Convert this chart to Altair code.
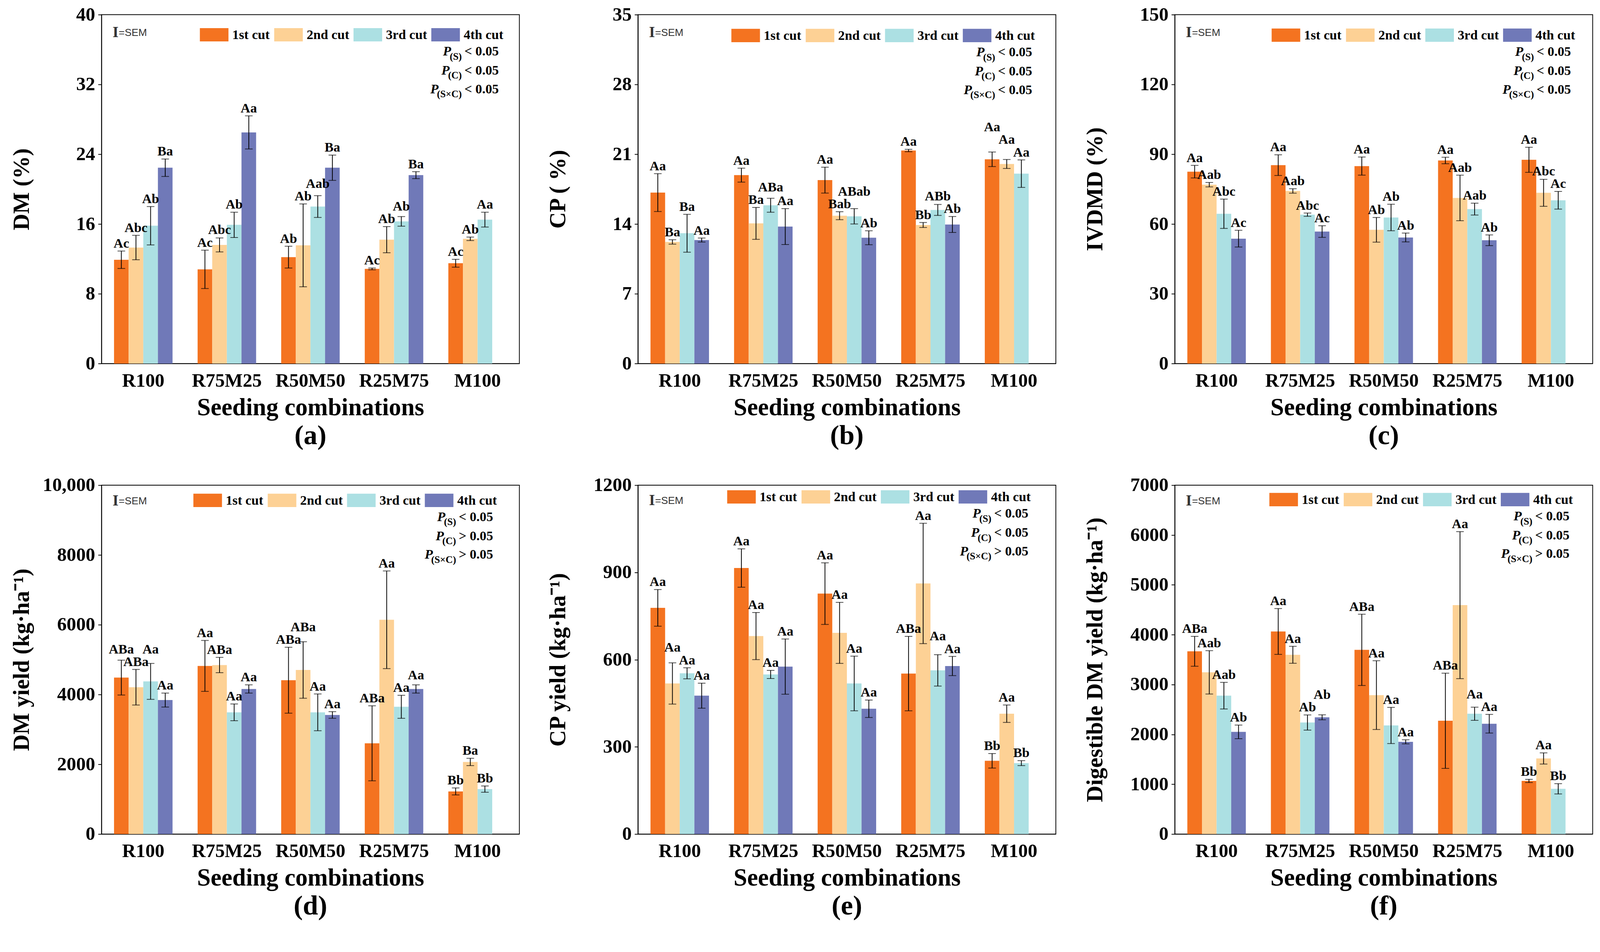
import altair as alt
import pandas as pd

FONT = "Liberation Serif"
W, H = 1096, 915

cats = ["R100", "R75M25", "R50M50", "R25M75", "M100"]
cuts = ["1st cut", "2nd cut", "3rd cut", "4th cut"]
colors = ["#F47320", "#FDD195", "#ACE0E3", "#7079B8"]

# (a) DM (%)
dm_mean = [[11.9, 13.3, 15.8, 22.45], [10.8, 13.6, 15.9, 26.5], [12.2, 13.55, 18.0, 22.45],
           [10.85, 14.2, 16.3, 21.6], [11.5, 14.3, 16.5]]
dm_sem = [[1.0, 1.4, 2.2, 1.0], [2.2, 0.8, 1.45, 1.9], [1.25, 4.75, 1.25, 1.45],
          [0.1, 1.5, 0.55, 0.4], [0.45, 0.2, 0.85]]
dm_let = [["Ac", "Abc", "Ab", "Ba"], ["Ac", "Abc", "Ab", "Aa"], ["Ab", "Ab", "Aab", "Ba"],
          ["Ac", "Ab", "Ab", "Ba"], ["Ac", "Ab", "Aa"]]

# (b) CP (%)
cp_mean = [[17.15, 12.2, 13.07, 12.39], [18.9, 14.06, 15.88, 13.74], [18.4, 14.83, 14.77, 12.62],
           [21.37, 13.9, 15.41, 13.95], [20.49, 20.02, 19.05]]
cp_sem = [[1.9, 0.22, 1.9, 0.2], [0.7, 1.6, 0.7, 1.8], [1.3, 0.4, 0.77, 0.7],
          [0.12, 0.25, 0.55, 0.8], [0.73, 0.45, 1.38]]
cp_let = [["Aa", "Ba", "Ba", "Aa"], ["Aa", "Ba", "ABa", "Aa"], ["Aa", "Bab", "ABab", "Ab"],
          ["Aa", "Bb", "ABb", "Ab"], ["Aa", "Aa", "Aa"]]

# (c) IVDMD (%)
iv_mean = [[82.5, 76.9, 64.4, 53.7], [85.3, 74.2, 64.0, 56.75], [84.9, 57.5, 62.8, 54.2],
           [87.3, 71.2, 66.4, 53.0], [87.6, 73.4, 70.2]]
iv_sem = [[2.7, 0.95, 6.3, 3.6], [4.45, 0.95, 0.7, 2.5], [3.9, 5.3, 5.7, 1.9],
          [1.4, 9.8, 2.55, 2.3], [5.4, 5.8, 3.8]]
iv_let = [["Aa", "Aab", "Abc", "Ac"], ["Aa", "Aab", "Abc", "Ac"], ["Aa", "Ab", "Ab", "Ab"],
          ["Aa", "Aab", "Aab", "Ab"], ["Aa", "Abc", "Ac"]]

# (d) DM yield
dy_mean = [[4485, 4209, 4376, 3841], [4820, 4845, 3489, 4159], [4410, 4703, 3489, 3414],
           [2602, 6142, 3648, 4159], [1222, 2067, 1289]]
dy_sem = [[500, 510, 515, 200], [730, 220, 240, 118], [945, 810, 527, 95],
          [1075, 1400, 330, 118], [100, 105, 90]]
dy_let = [["ABa", "ABa", "Aa", "Aa"], ["Aa", "ABa", "Aa", "Aa"], ["ABa", "ABa", "Aa", "Aa"],
          ["ABa", "Aa", "Aa", "Aa"], ["Bb", "Ba", "Bb"]]

# (e) CP yield
cy_mean = [[778, 518, 553, 476], [915, 681, 549, 576], [827, 692, 518, 431],
           [552, 862, 563, 578], [252, 414, 244]]
cy_sem = [[63, 71, 19, 43], [66, 81, 14, 95], [106, 105, 94, 30],
          [128, 207, 54, 33], [25, 30, 8.5]]
cy_let = [["Aa", "Aa", "Aa", "Aa"], ["Aa", "Aa", "Aa", "Aa"], ["Aa", "Aa", "Aa", "Aa"],
          ["ABa", "Aa", "Aa", "Aa"], ["Bb", "Aa", "Bb"]]

# (f) Digestible DM yield
dd_mean = [[3667, 3245, 2777, 2050], [4065, 3597, 2238, 2343], [3696, 2788, 2179, 1851],
           [2273, 4593, 2414, 2214], [1066, 1517, 908]]
dd_sem = [[300, 435, 267, 137], [460, 170, 152, 50], [715, 690, 363, 41],
          [955, 1475, 132, 187], [32, 112, 103]]
dd_let = [["ABa", "Aab", "Aab", "Ab"], ["Aa", "Aa", "Ab", "Ab"], ["ABa", "Aa", "Aa", "Aa"],
          ["ABa", "Aa", "Aa", "Aa"], ["Bb", "Aa", "Bb"]]

p_subs = ["(S)", "(C)", "(S×C)"]
p_a = ["< 0.05", "< 0.05", "< 0.05"]
p_b = ["< 0.05", "< 0.05", "< 0.05"]
p_c = ["< 0.05", "< 0.05", "< 0.05"]
p_d = ["< 0.05", "> 0.05", "> 0.05"]
p_e = ["< 0.05", "< 0.05", "> 0.05"]
p_f = ["< 0.05", "< 0.05", "> 0.05"]

# layout constants for annotation text
SUB_W = [32, 36, 65]
BASES = [107, 157, 206]
LFS = 35          # letter font size
LGAP = 9          # gap between error-bar top and letter baseline
LROW = 33         # vertical separation for colliding letters
BAR_W = W / 5 * 0.7 / 4

RECT = "M-1,-0.467L1,-0.467L1,0.467L-1,0.467Z"
CW = {"A": 0.722, "B": 0.667, "a": 0.5, "b": 0.556, "c": 0.444}


def text_w(s):
    return sum(CW.get(ch, 0.55) for ch in s) * LFS


def place_letters(his, lets, ymax):
    """Lift colliding letters within one group; returns baseline positions in data units."""
    ppu = H / ymax
    ys = [H - h * ppu - LGAP for h in his]
    xs = [j * BAR_W for j in range(len(his))]
    ws = [text_w(s) for s in lets]
    for _ in range(6):
        moved = False
        for a in range(len(ys)):
            for b in range(a + 1, len(ys)):
                if abs(xs[a] - xs[b]) < (ws[a] + ws[b]) / 2 + 2 and abs(ys[a] - ys[b]) < LROW:
                    if ys[a] <= ys[b]:
                        ys[a] = ys[b] - LROW
                    else:
                        ys[b] = ys[a] - LROW
                    moved = True
        if not moved:
            break
    return [(H - y) / ppu for y in ys]


def panel(means, sems, letters, ymax, ystep, ytitle, sub, ps, lx, dyo, pright, sdy):
    rows = []
    for i, c in enumerate(cats):
        his = [means[i][j] + sems[i][j] for j in range(len(means[i]))]
        lys = place_letters(his, letters[i], ymax)
        for j, cut in enumerate(cuts):
            if j < len(means[i]):
                m = means[i][j]
                s = sems[i][j]
                rows.append(dict(combo=c, cut=cut, mean=m, lo=m - s, hi=m + s, ly=lys[j],
                                 letter=letters[i][j]))
    df = pd.DataFrame(rows)
    base = alt.Chart(df)
    ticks = list(range(0, int(ymax) + 1, int(ystep)))
    main_right = W - pright
    sub_right = main_right - 97

    xenc = alt.X("combo:N", sort=cats,
                 scale=alt.Scale(paddingInner=0.3, paddingOuter=0.15),
                 axis=alt.Axis(title="Seeding combinations", labelAngle=0, ticks=False, tickSize=0,
                               labelLimit=0,
                               labelFont=FONT, labelFontSize=50, labelFontWeight="bold",
                               labelPadding=20, titleFont=FONT, titleFontSize=64,
                               titleFontWeight="bold", titlePadding=14, domainWidth=2))
    xo = alt.XOffset("cut:N", sort=cuts, scale=alt.Scale(domain=cuts, paddingInner=0, paddingOuter=0))
    yaxis = alt.Axis(values=ticks, grid=False, tickSize=9, tickWidth=2, labelPadding=8,
                     labelFont=FONT, labelFontSize=50, labelFontWeight="bold",
                     labelExpr="datum.value >= 10000 ? format(datum.value, ',') : format(datum.value, 'd')",
                     titleFont=FONT, titleFontSize=60, titleFontWeight="bold",
                     titleX=-209, titleBaseline="middle", domainWidth=2)
    yscale = alt.Scale(domain=[0, ymax], nice=False, zero=True)

    bars = base.mark_bar().encode(
        x=xenc, xOffset=xo,
        y=alt.Y("mean:Q", scale=yscale, axis=yaxis, title=ytitle),
        color=alt.Color("cut:N", scale=alt.Scale(domain=cuts, range=colors),
                        legend=alt.Legend(orient="none", legendX=lx, legendY=15 + dyo,
                                          direction="horizontal", title=None,
                                          symbolType=RECT, symbolSize=5625, symbolStrokeWidth=0,
                                          symbolOpacity=1, labelLimit=0,
                                          labelFont=FONT, labelFontSize=35, labelFontWeight="bold",
                                          labelOffset=10, columnPadding=11, padding=0)),
    )
    xs = alt.X("combo:N", sort=cats)
    xos = alt.XOffset("cut:N", sort=cuts)
    rule = base.mark_rule(color="black", strokeWidth=2).encode(
        x=xs, xOffset=xos, y=alt.Y("lo:Q", title=ytitle), y2="hi:Q")
    tick_hi = base.mark_tick(color="black", thickness=2, size=20).encode(
        x=xs, xOffset=xos, y=alt.Y("hi:Q", title=ytitle))
    tick_lo = base.mark_tick(color="black", thickness=2, size=20).encode(
        x=xs, xOffset=xos, y=alt.Y("lo:Q", title=ytitle))
    lab = base.mark_text(font=FONT, fontSize=LFS, fontWeight="bold", baseline="alphabetic",
                         color="black").encode(
        x=xs, xOffset=xos, y=alt.Y("ly:Q", title=ytitle), text="letter:N")

    one = alt.Chart(pd.DataFrame({"k": [0]}))
    layers = [bars, rule, tick_hi, tick_lo, lab]
    layers.append(one.mark_text(font=FONT, fontSize=40, fontWeight="bold", align="left",
                                baseline="alphabetic", color="#333333").encode(
        x=alt.value(29), y=alt.value(59 + sdy), text=alt.value("I")))
    layers.append(one.mark_text(font="Liberation Sans", fontSize=27, align="left",
                                baseline="alphabetic", color="#333333").encode(
        x=alt.value(45), y=alt.value(56 + sdy), text=alt.value("=SEM")))
    for k in range(3):
        b = BASES[k] + dyo
        layers.append(one.mark_text(font=FONT, fontSize=35, fontWeight="bold", align="right",
                                    baseline="alphabetic", color="black").encode(
            x=alt.value(main_right), y=alt.value(b), text=alt.value(ps[k])))
        layers.append(one.mark_text(font=FONT, fontSize=26, fontWeight="bold", align="right",
                                    baseline="alphabetic", color="black").encode(
            x=alt.value(sub_right), y=alt.value(b + 11), text=alt.value(p_subs[k])))
        layers.append(one.mark_text(font=FONT, fontSize=35, fontWeight="bold", fontStyle="italic",
                                    align="right", baseline="alphabetic", color="black").encode(
            x=alt.value(sub_right - SUB_W[k] + 4), y=alt.value(b), text=alt.value("P")))

    return alt.layer(*layers).properties(
        width=W, height=H,
        title=alt.TitleParams(text=sub, orient="bottom", anchor="middle", font=FONT,
                              fontSize=72, fontWeight="bold", offset=6, color="black"))


pa = panel(dm_mean, dm_sem, dm_let, 40, 8, "DM (%)", "(a)", p_a, 258, 0, 54, 0)
pb = panel(cp_mean, cp_sem, cp_let, 35, 7, "CP ( %)", "(b)", p_b, 245, 2, 62, 0)
pc = panel(iv_mean, iv_sem, iv_let, 150, 30, "IVDMD (%)", "(c)", p_c, 254, 1, 57, 0)
pd_ = panel(dy_mean, dy_sem, dy_let, 10000, 2000, "DM yield (kg·ha⁻¹)", "(d)", p_d, 241, -13, 69, -6)
pe = panel(cy_mean, cy_sem, cy_let, 1200, 300, "CP yield (kg·ha⁻¹)", "(e)", p_e, 234, -22, 72, -7)
pf = panel(dd_mean, dd_sem, dd_let, 7000, 1000, "Digestible DM yield (kg·ha⁻¹)", "(f)", p_f, 248, -15, 61, -6)

chart = alt.concat(pa, pb, pc, pd_, pe, pf, columns=3, spacing={"row": 67, "column": 70}).resolve_scale(
    color="independent").resolve_legend(color="independent").properties(
    padding={"left": 18, "top": -25, "right": 10, "bottom": 10}, background="white").configure_view(
    stroke="black", strokeWidth=2).configure_axis(
    domainColor="black", tickColor="black", labelColor="black", titleColor="black")

chart.save("out.html", embed_options={"renderer": "svg", "actions": False})
